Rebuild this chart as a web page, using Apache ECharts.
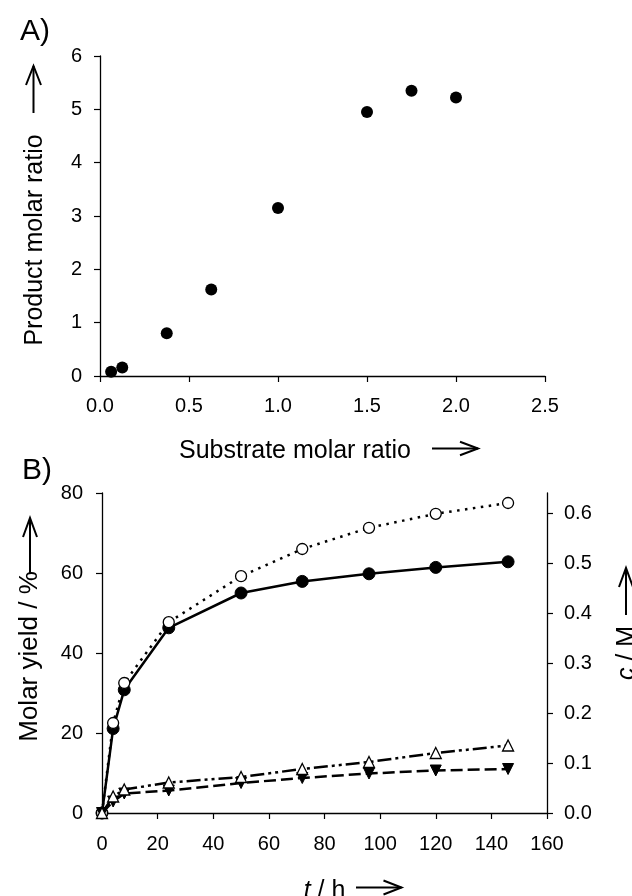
<!DOCTYPE html>
<html>
<head>
<meta charset="utf-8">
<script src="https://cdn.jsdelivr.net/npm/echarts@6/dist/echarts.min.js"></script>
<style>html,body{margin:0;padding:0;background:#fff;}#c{width:632px;height:896px;}</style>
</head>
<body>
<div id="c"></div>
<script>
// Panel A
const substrateRatio = [0.0625, 0.125, 0.375, 0.625, 1.0, 1.5, 1.75, 2.0];
const productRatio = [0.08, 0.16, 0.80, 1.62, 3.15, 4.95, 5.35, 5.22];
// Panel B
const timeH = [0, 4, 8, 24, 50, 72, 96, 120, 146];
const yieldFilledCircle = [0, 21.1, 30.8, 46.3, 55.0, 57.9, 59.8, 61.4, 62.8];
const yieldOpenCircle = [0, 22.5, 32.5, 47.7, 59.2, 66.0, 71.3, 74.8, 77.5];
const concOpenTriangle = [0, 0.033, 0.047, 0.061, 0.072, 0.088, 0.102, 0.120, 0.135];
const concFilledTriangle = [0, 0.023, 0.039, 0.045, 0.060, 0.070, 0.079, 0.085, 0.088];
const rightTicks = [0, 0.1, 0.2, 0.3, 0.4, 0.5, 0.6];

const FONT = 'Liberation Sans, Arial, sans-serif';
const axisLine = { show: true, lineStyle: { color: '#000', width: 1.3 } };
const axisTick = { show: true, inside: false, length: 6, lineStyle: { color: '#000', width: 1.2 } };
const lab = (m, fmt) => ({ color: '#000', fontSize: 20, fontFamily: FONT, margin: m, formatter: fmt });

const pair = (xs, ys) => xs.map((x, i) => [x, ys[i]]);

function arrow(x1, y1, x2, y2, head, half) {
  // decorative arrow from (x1,y1) to (x2,y2)
  const dx = x2 - x1, dy = y2 - y1, L = Math.hypot(dx, dy);
  const ux = dx / L, uy = dy / L, px = -uy, py = ux;
  const bx = x2 - ux * head, by = y2 - uy * head;
  return [
    { type: 'line', shape: { x1, y1, x2, y2 }, style: { stroke: '#000', lineWidth: 2 } },
    { type: 'polyline', shape: { points: [[bx + px * half, by + py * half], [x2, y2], [bx - px * half, by - py * half]] },
      style: { stroke: '#000', lineWidth: 2, fill: null } }
  ];
}

const chart = echarts.init(document.getElementById('c'), null, { renderer: 'canvas' });
chart.setOption({
  backgroundColor: '#fff',
  animation: false,
  textStyle: { fontFamily: FONT },
  grid: [
    { left: 100, top: 56, width: 445, height: 320, outerBoundsMode: 'none', containLabel: false },
    { left: 102, top: 493, width: 445, height: 320, outerBoundsMode: 'none', containLabel: false }
  ],
  xAxis: [
    { type: 'value', gridIndex: 0, min: 0, max: 2.5, interval: 0.5, splitLine: { show: false },
      axisLine, axisTick, axisLabel: lab(20, v => v.toFixed(1)),
      name: 'Substrate molar ratio', nameLocation: 'middle', nameGap: 63,
      nameTextStyle: { color: '#000', fontSize: 25, fontFamily: FONT, padding: [0, 55, 0, 0] } },
    { type: 'value', gridIndex: 1, min: 0, max: 160, interval: 20, splitLine: { show: false },
      axisLine, axisTick, axisLabel: lab(21),
      name: '{i|t} / h', nameLocation: 'middle', nameGap: 66,
      nameTextStyle: { color: '#000', fontSize: 25, fontFamily: FONT,
        rich: { i: { fontStyle: 'italic', fontSize: 25, fontFamily: FONT, color: '#000' } } } }
  ],
  yAxis: [
    { type: 'value', gridIndex: 0, min: 0, max: 6, interval: 1, splitLine: { show: false },
      axisLine, axisTick, axisLabel: lab(18),
      name: 'Product molar ratio', nameLocation: 'middle', nameGap: 52,
      nameTextStyle: { color: '#000', fontSize: 25, fontFamily: FONT, padding: [0, 48, 0, 0] } },
    { type: 'value', gridIndex: 1, min: 0, max: 80, interval: 20, splitLine: { show: false },
      axisLine, axisTick, axisLabel: lab(19),
      name: 'Molar yield / %', nameLocation: 'middle', nameGap: 59,
      nameTextStyle: { color: '#000', fontSize: 26, fontFamily: FONT, padding: [0, 7, 0, 0] } },
    { type: 'value', gridIndex: 1, position: 'right', min: 0, max: 0.64, splitLine: { show: false },
      axisLine, axisTick: Object.assign({ customValues: rightTicks }, axisTick),
      axisLabel: Object.assign({ customValues: rightTicks }, lab(17, v => v.toFixed(1))),
      name: '{i|c} / M', nameLocation: 'middle', nameGap: 68,
      nameTextStyle: { color: '#000', fontSize: 25, fontFamily: FONT,
        rich: { i: { fontStyle: 'italic', fontSize: 25, fontFamily: FONT, color: '#000' } } } }
  ],
  series: [
    { type: 'scatter', xAxisIndex: 0, yAxisIndex: 0, data: pair(substrateRatio, productRatio),
      symbol: 'circle', symbolSize: 12, itemStyle: { color: '#000', opacity: 1 } },
    { type: 'line', xAxisIndex: 1, yAxisIndex: 1, data: pair(timeH, yieldFilledCircle),
      symbol: 'circle', symbolSize: 12, showAllSymbol: true,
      lineStyle: { color: '#000', width: 2.5, type: 'solid' },
      itemStyle: { color: '#000', borderColor: '#000', borderWidth: 1 } },
    { type: 'line', xAxisIndex: 1, yAxisIndex: 1, data: pair(timeH, yieldOpenCircle),
      symbol: 'circle', symbolSize: 11, showAllSymbol: true,
      lineStyle: { color: '#000', width: 2.5, type: [2.5, 5.5] },
      itemStyle: { color: '#fff', borderColor: '#000', borderWidth: 1.3 } },
    { type: 'line', xAxisIndex: 1, yAxisIndex: 2, data: pair(timeH, concFilledTriangle),
      symbol: 'triangle', symbolRotate: 180, symbolSize: 11, showAllSymbol: true,
      lineStyle: { color: '#000', width: 2.5, type: [12, 5] },
      itemStyle: { color: '#000', borderColor: '#000', borderWidth: 1 } },
    { type: 'line', xAxisIndex: 1, yAxisIndex: 2, data: pair(timeH, concOpenTriangle),
      symbol: 'triangle', symbolSize: 11, showAllSymbol: true,
      lineStyle: { color: '#000', width: 2.5, type: [14, 4, 3, 4, 3, 4] },
      itemStyle: { color: '#fff', borderColor: '#000', borderWidth: 1.3 } }
  ],
  graphic: [
    { type: 'text', left: 20, top: 17, style: { text: 'A)', fontSize: 30, fontFamily: FONT, fill: '#000' } },
    { type: 'text', left: 22, top: 456, style: { text: 'B)', fontSize: 30, fontFamily: FONT, fill: '#000' } },
    ...arrow(33.5, 113, 33.5, 66, 19, 7.5),
    ...arrow(432, 448.5, 478, 448.5, 18, 6.7),
    ...arrow(30, 573, 30, 518, 19, 7),
    ...arrow(356, 887.5, 401.5, 887.5, 18, 7),
    ...arrow(626, 615, 626, 568, 19, 7)
  ]
});
</script>
</body>
</html>
